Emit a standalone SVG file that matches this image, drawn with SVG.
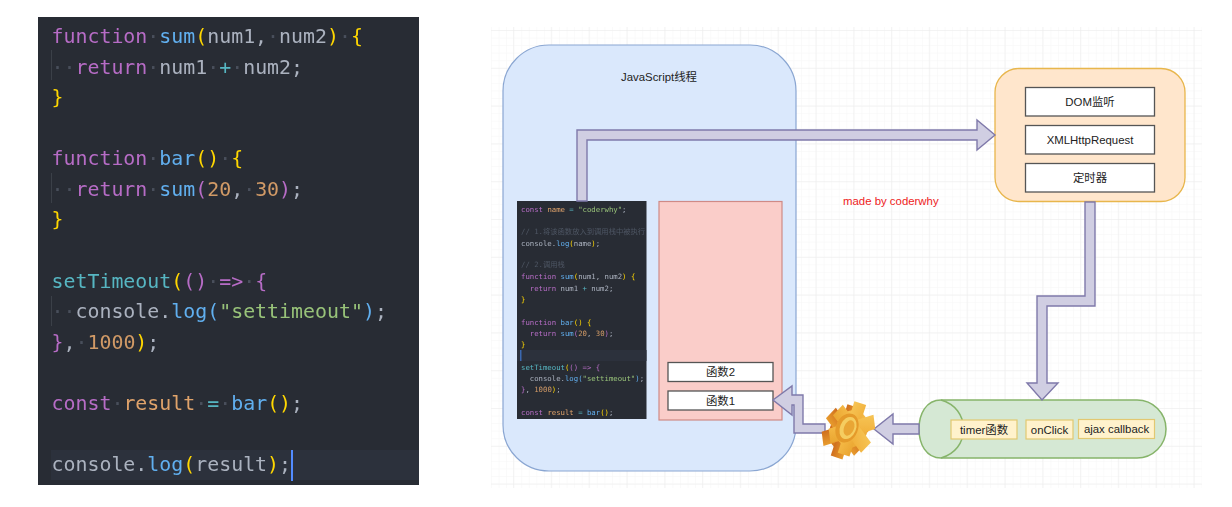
<svg xmlns="http://www.w3.org/2000/svg" width="1232" height="507" viewBox="0 0 1232 507">
<style>
.c{font-family:"DejaVu Sans Mono","Liberation Mono",monospace;font-size:19.9px;fill:#abb2bf;white-space:pre}
.m{font-family:"DejaVu Sans Mono","Liberation Mono","Noto Sans CJK SC",monospace;font-size:7.3px;fill:#abb2bf;white-space:pre}
.k{fill:#c678dd}.k2{fill:#b76cc6}.f{fill:#61afef}.y{fill:#ffd700}.n{fill:#d19a66}.t{fill:#56b6c2}.s{fill:#98c379}.w{fill:#4a505c}.o{fill:#e0a36b}.g{fill:#4d5563}
.l{font-family:"Liberation Sans","Noto Sans CJK SC",sans-serif;font-size:11.4px;fill:#222;text-anchor:middle}
.box{fill:#fff;stroke:#555;stroke-width:1.3}
.tag{fill:#fff2cc;stroke:#e2c871;stroke-width:1.2}
.arrow{fill:#d0cee2;stroke:#7f79aa;stroke-width:1.4;stroke-linejoin:miter}
</style>
<defs>
<pattern id="minor" width="7.56" height="7.56" patternUnits="userSpaceOnUse" x="491" y="30">
<path d="M0 0H7.56M0 0V7.56" fill="none" stroke="#f6f6f6" stroke-width="1"/>
</pattern>
<pattern id="major" width="37.8" height="37.8" patternUnits="userSpaceOnUse" x="513" y="30">
<path d="M0 0H37.8M0 0V37.8" fill="none" stroke="#ebebeb" stroke-width="1"/>
</pattern>
<linearGradient id="gearFace" x1="0" y1="0" x2="1" y2="1">
<stop offset="0" stop-color="#f6c455"/><stop offset="0.55" stop-color="#f2b440"/><stop offset="1" stop-color="#eaa530"/>
</linearGradient>
<linearGradient id="gearSide" x1="0" y1="0" x2="1" y2="0">
<stop offset="0" stop-color="#cf6e1e"/><stop offset="1" stop-color="#e89c2e"/>
</linearGradient>
<g id="gearShape">
<circle r="19"/>
<rect x="-7.500" y="-27" width="15" height="54"/>
<rect x="-7.500" y="-27" width="15" height="54" transform="rotate(60)"/>
<rect x="-7.500" y="-27" width="15" height="54" transform="rotate(120)"/>
</g>
<filter id="soft" x="-5%" y="-5%" width="110%" height="110%"><feGaussianBlur stdDeviation="0.35"/></filter>
<filter id="soft2" x="-5%" y="-5%" width="110%" height="110%"><feGaussianBlur stdDeviation="0.5"/></filter>
<clipPath id="miniClip"><rect x="517" y="201" width="129" height="218"/></clipPath>
</defs>

<rect width="1232" height="507" fill="#fff"/>

<g id="code-panel">
<rect x="38" y="17" width="381" height="468" fill="#282c34"/>
<rect x="51" y="450" width="368" height="30" fill="#2c313c"/>
<path d="M51.500 50V80M51.500 173V203M51.500 296V326" stroke="#3b4048" stroke-width="1"/>
<rect x="291" y="450" width="2" height="31" fill="#528bff"/>
<g filter="url(#soft)">
<text class="c" x="51.500" y="43"><tspan class="k2">function</tspan><tspan class="w">·</tspan><tspan class="f">sum</tspan><tspan class="y">(</tspan>num1,<tspan class="w">·</tspan>num2<tspan class="y">)</tspan><tspan class="w">·</tspan><tspan class="y">{</tspan></text>
<text class="c" x="51.500" y="73.500"><tspan class="w">··</tspan><tspan class="k2">return</tspan><tspan class="w">·</tspan>num1<tspan class="w">·</tspan><tspan class="t">+</tspan><tspan class="w">·</tspan>num2;</text>
<text class="c" x="51.500" y="104"><tspan class="y">}</tspan></text>
<text class="c" x="51.500" y="165"><tspan class="k2">function</tspan><tspan class="w">·</tspan><tspan class="f">bar</tspan><tspan class="y">()</tspan><tspan class="w">·</tspan><tspan class="y">{</tspan></text>
<text class="c" x="51.500" y="196"><tspan class="w">··</tspan><tspan class="k2">return</tspan><tspan class="w">·</tspan><tspan class="f">sum</tspan><tspan class="k2">(</tspan><tspan class="n">20</tspan>,<tspan class="w">·</tspan><tspan class="n">30</tspan><tspan class="k2">)</tspan>;</text>
<text class="c" x="51.500" y="226"><tspan class="y">}</tspan></text>
<text class="c" x="51.500" y="288"><tspan class="t">setTimeout</tspan><tspan class="y">(</tspan><tspan class="k2">()</tspan><tspan class="w">·</tspan><tspan class="k2">=&gt;</tspan><tspan class="w">·</tspan><tspan class="k2">{</tspan></text>
<text class="c" x="51.500" y="318"><tspan class="w">··</tspan>console.<tspan class="f">log</tspan><tspan class="f">(</tspan><tspan class="s">"settimeout"</tspan><tspan class="f">)</tspan>;</text>
<text class="c" x="51.500" y="349"><tspan class="k2">}</tspan>,<tspan class="w">·</tspan><tspan class="n">1000</tspan><tspan class="y">)</tspan>;</text>
<text class="c" x="51.500" y="410"><tspan class="k2">const</tspan><tspan class="w">·</tspan><tspan class="o">result</tspan><tspan class="w">·</tspan><tspan class="t">=</tspan><tspan class="w">·</tspan><tspan class="f">bar</tspan><tspan class="y">()</tspan>;</text>
<text class="c" x="51.500" y="471">console.<tspan class="f">log</tspan><tspan class="y">(</tspan>result<tspan class="y">)</tspan>;</text>
</g>
</g>

<rect id="grid-minor" x="491" y="27" width="711" height="461" fill="url(#minor)"/>
<rect id="grid-major" x="491" y="27" width="711" height="461" fill="url(#major)"/>

<g id="js-thread">
<rect x="503" y="45" width="293" height="426" rx="46" ry="46" fill="#dae8fc" stroke="#8aa6d2" stroke-width="1.2"/>
<text class="l" x="659" y="81">JavaScript线程</text>
</g>

<g id="mini-code">
<rect x="517" y="201" width="129.500" height="218" fill="#282c34"/>
<rect x="517" y="350" width="129.500" height="11" fill="#2c313c"/>
<rect x="520" y="350" width="1.500" height="11" fill="#3b68b0"/>
<g clip-path="url(#miniClip)" filter="url(#soft2)">
<text class="m" x="521" y="211.500"><tspan class="k2">const</tspan> <tspan class="o">name</tspan> <tspan class="t">=</tspan> <tspan class="s">"coderwhy"</tspan>;</text>
<text class="m g" x="521" y="234">// 1.将该函数放入到调用栈中被执行</text>
<text class="m" x="521" y="245.500">console.<tspan class="f">log</tspan><tspan class="y">(</tspan>name<tspan class="y">)</tspan>;</text>
<text class="m g" x="521" y="267">// 2.调用栈</text>
<text class="m" x="521" y="279"><tspan class="k2">function</tspan> <tspan class="f">sum</tspan><tspan class="y">(</tspan>num1, num2<tspan class="y">)</tspan> <tspan class="y">{</tspan></text>
<text class="m" x="521" y="290.500">  <tspan class="k2">return</tspan> num1 <tspan class="t">+</tspan> num2;</text>
<text class="m" x="521" y="301.500"><tspan class="y">}</tspan></text>
<text class="m" x="521" y="324.500"><tspan class="k2">function</tspan> <tspan class="f">bar</tspan><tspan class="y">()</tspan> <tspan class="y">{</tspan></text>
<text class="m" x="521" y="336">  <tspan class="k2">return</tspan> <tspan class="f">sum</tspan><tspan class="k2">(</tspan><tspan class="n">20</tspan>, <tspan class="n">30</tspan><tspan class="k2">)</tspan>;</text>
<text class="m" x="521" y="346.500"><tspan class="y">}</tspan></text>
<text class="m" x="521" y="369.500"><tspan class="t">setTimeout</tspan><tspan class="y">(</tspan><tspan class="k2">()</tspan> <tspan class="k2">=&gt;</tspan> <tspan class="k2">{</tspan></text>
<text class="m" x="521" y="380.500">  console.<tspan class="f">log</tspan><tspan class="f">(</tspan><tspan class="s">"settimeout"</tspan><tspan class="f">)</tspan>;</text>
<text class="m" x="521" y="391.500"><tspan class="k2">}</tspan>, <tspan class="n">1000</tspan><tspan class="y">)</tspan>;</text>
<text class="m" x="521" y="414.500"><tspan class="k2">const</tspan> <tspan class="o">result</tspan> <tspan class="t">=</tspan> <tspan class="f">bar</tspan><tspan class="y">()</tspan>;</text>
</g>
</g>

<g id="call-stack">
<rect x="659" y="201.500" width="123" height="218.500" fill="#facdc9" stroke="#cf8a86" stroke-width="1.2"/>
</g>
<g id="fn2">
<rect class="box" x="668" y="362.500" width="105" height="19"/>
<text class="l" x="720.500" y="376">函数2</text>
</g>
<g id="fn1">
<rect class="box" x="668" y="391" width="105" height="19"/>
<text class="l" x="720.500" y="404.500">函数1</text>
</g>

<g id="web-apis">
<rect x="995" y="68.500" width="190" height="133" rx="24" ry="24" fill="#ffe6cc" stroke="#e8b64c" stroke-width="1.3"/>
</g>
<g id="dom">
<rect class="box" x="1025.500" y="87.500" width="129" height="28.500"/>
<text class="l" x="1090" y="106">DOM监听</text>
</g>
<g id="xhr">
<rect class="box" x="1025.500" y="125.500" width="129" height="28.500"/>
<text class="l" x="1090" y="143.500">XMLHttpRequest</text>
</g>
<g id="timer">
<rect class="box" x="1025.500" y="163.500" width="129" height="28.500"/>
<text class="l" x="1090" y="181.500">定时器</text>
</g>

<g id="queue">
<path d="M941 400H1137A29 29 0 0 1 1137 458H941C926 458 919 444 919 429C919 414 926 400 941 400Z" fill="#d5e8d4" stroke="#86b46a" stroke-width="1.5"/>
<path d="M941 400C955 404 963.500 415 963.500 429C963.500 443 955 454 941 458" fill="none" stroke="#86b46a" stroke-width="1.5"/>
</g>
<g id="q-timer">
<rect class="tag" x="951" y="420" width="66" height="19"/>
<text class="l" x="984" y="433.500">timer函数</text>
</g>
<g id="q-click">
<rect class="tag" x="1026" y="420" width="47" height="19"/>
<text class="l" x="1049.500" y="433.500">onClick</text>
</g>
<g id="q-ajax">
<rect class="tag" x="1078.500" y="419.500" width="76" height="19"/>
<text class="l" x="1116.500" y="432.500">ajax callback</text>
</g>

<g id="connectors">
<path class="arrow" d="M577 201V130H977V120L995 135L977 150V140H587V201Z"/>
<path class="arrow" d="M1085 202V296H1037V383H1027L1042 400L1058 383H1047V306H1095V202Z"/>
<path class="arrow" d="M773 400L792 386V395H803V424H825V433H794V405H792V415Z"/>
<path class="arrow" d="M874 429L893 414V424H919V434H893V444Z"/>
</g>

<g id="gear" filter="url(#soft)">
<g transform="translate(849 430) rotate(18) scale(0.82 1)">
<use href="#gearShape" fill="url(#gearSide)" transform="translate(-4 3)"/>
<use href="#gearShape" fill="url(#gearFace)" transform="translate(3 -2)"/>
</g>
<ellipse cx="847" cy="428" rx="11" ry="15" transform="rotate(22 847 428)" fill="#e59a2a"/>
<ellipse cx="848" cy="428" rx="8" ry="11.500" transform="rotate(22 848 428)" fill="#f5cd60"/>
<ellipse cx="849" cy="428" rx="5" ry="8" transform="rotate(22 849 428)" fill="#e9a635"/>
</g>

<g id="credit">
<text x="843" y="205" font-family="'Liberation Sans',sans-serif" font-size="11.4" fill="#ee2222">made by coderwhy</text>
</g>
</svg>
